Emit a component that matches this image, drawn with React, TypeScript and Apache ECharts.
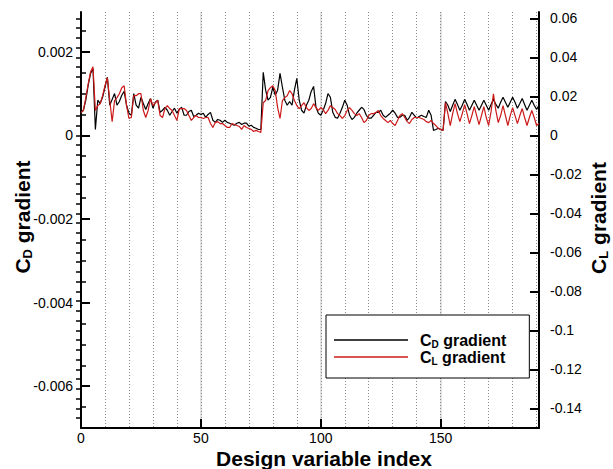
import React, { useEffect, useRef } from 'react';
import * as echarts from 'echarts';

const designIndex = Array.from({ length: 192 }, (_, i) => i);

const cdGradient = [
  0.00055, 0.0006, 0.00084, 0.0012, 0.00148, 0.0016, 0.00014, 0.00084, 0.00076, 0.00091,
  0.00115, 0.00139, 0.00072, 0.00086, 0.001, 0.00072, 0.00081, 0.00096, 0.00105, 0.00072,
  0.00053, 0.00048, 0.001, 0.00072, 0.00065, 0.00091, 0.00076, 0.00062, 0.00076, 0.00088,
  0.00065, 0.00079, 0.00084, 0.00055, 0.0006, 0.00067, 0.0006, 0.00048, 0.00057, 0.00065,
  0.00053, 0.00062, 0.00067, 0.00048, 0.00048, 0.00057, 0.0006, 0.00045, 0.00048, 0.00053,
  0.0005, 0.00053, 0.00043, 0.0005, 0.00055, 0.00036, 0.00031, 0.00038, 0.00036, 0.00031,
  0.00036, 0.00031, 0.00029, 0.00026, 0.00024, 0.00029, 0.00031, 0.00026, 0.00029, 0.00029,
  0.00022, 0.00024, 0.00019, 0.00017, 0.00014, 0.00014, 0.00151, 0.00108, 0.00084, 0.00091,
  0.00115, 0.00096, 0.00108, 0.00148, 0.00115, 0.00084, 0.00072, 0.00081, 0.00072, 0.00108,
  0.00136, 0.00084, 0.0006, 0.00053, 0.00072, 0.00084, 0.00105, 0.00117, 0.00067, 0.00053,
  0.00048, 0.0006, 0.00076, 0.001, 0.00091, 0.00055, 0.00043, 0.00041, 0.00053, 0.00067,
  0.00084, 0.00072, 0.00048, 0.00038, 0.00043, 0.00053, 0.0006, 0.00067, 0.00062, 0.00048,
  0.00041, 0.00041, 0.00048, 0.00055, 0.00055, 0.0006, 0.00048, 0.00043, 0.00048, 0.00053,
  0.0006, 0.00053, 0.00043, 0.00043, 0.00048, 0.00048, 0.00036, 0.00043, 0.00055, 0.00048,
  0.00041, 0.00045, 0.00048, 0.00045, 0.00043, 0.0006, 0.00048, 0.00012, 0.00014, 0.00017,
  0.00014, 0.00012, 0.00081, 0.00072, 0.00057, 0.00072, 0.00086, 0.00074, 0.0006, 0.00072,
  0.00086, 0.00074, 0.0006, 0.00072, 0.00084, 0.00072, 0.0006, 0.00072, 0.00084, 0.00072,
  0.0006, 0.00074, 0.00086, 0.00074, 0.00065, 0.00079, 0.00091, 0.00079, 0.00067, 0.00079,
  0.00091, 0.00079, 0.00065, 0.00076, 0.00088, 0.00074, 0.0006, 0.00072, 0.00084, 0.00072,
  0.00062, 0.00072,
];

const clGradient = [
  0.0117, 0.0128, 0.0194, 0.0265, 0.0326, 0.0352, 0.0128, 0.0153, 0.0163, 0.0204,
  0.0255, 0.0296, 0.0179, 0.0071, 0.0179, 0.0194, 0.0214, 0.0245, 0.0255, 0.0153,
  0.0087, 0.0092, 0.0204, 0.0204, 0.0214, 0.0214, 0.0128, 0.0092, 0.0128, 0.0189,
  0.0153, 0.0168, 0.0179, 0.0102, 0.0092, 0.0138, 0.0153, 0.0138, 0.0128, 0.0102,
  0.0077, 0.0138, 0.0138, 0.0138, 0.0128, 0.0102, 0.0077, 0.0092, 0.0102, 0.0092,
  0.0092, 0.0087, 0.0092, 0.0092, 0.0061, 0.0041, 0.0066, 0.0071, 0.0061, 0.0061,
  0.0051, 0.0041, 0.0041, 0.0061, 0.0056, 0.0051, 0.0046, 0.0031, 0.0051, 0.0041,
  0.0036, 0.0031, 0.002, 0.0026, 0.002, 0.0015, 0.0168, 0.0179, 0.023, 0.0245,
  0.0255, 0.023, 0.0143, 0.0087, 0.0179, 0.0194, 0.0204, 0.023, 0.0214, 0.0179,
  0.0153, 0.0138, 0.0153, 0.0168, 0.0143, 0.0128, 0.0138, 0.0163, 0.0143, 0.0128,
  0.0143, 0.0133, 0.0112, 0.0128, 0.0153, 0.0143, 0.0133, 0.0112, 0.0102, 0.0087,
  0.0102, 0.0128, 0.0143, 0.0128, 0.0112, 0.0102, 0.0112, 0.0092, 0.0066, 0.0077,
  0.0102, 0.0112, 0.0112, 0.0117, 0.0128, 0.0102, 0.0087, 0.0077, 0.0066, 0.0077,
  0.0061, 0.0051, 0.0077, 0.0102, 0.0112, 0.0092, 0.0071, 0.0061, 0.0082, 0.0092,
  0.0092, 0.0092, 0.0087, 0.0082, 0.0071, 0.0066, 0.0077, 0.0061, 0.0051, 0.0036,
  0.0031, 0.0026, 0.0168, 0.0112, 0.0051, 0.0112, 0.0163, 0.0112, 0.0071, 0.0112,
  0.0158, 0.0112, 0.0061, 0.0102, 0.0148, 0.0102, 0.0056, 0.0102, 0.0148, 0.0092,
  0.0051, 0.0122, 0.0214, 0.0128, 0.0066, 0.0102, 0.0153, 0.0102, 0.0051, 0.0102,
  0.0143, 0.0102, 0.0061, 0.0102, 0.0138, 0.0092, 0.0051, 0.0092, 0.0128, 0.0092,
  0.0051, 0.0061,
];

const xTicks = [0, 50, 100, 150];
const cdTicks = [-0.006, -0.004, -0.002, 0, 0.002];
const cdMinorTicks = [
  -0.0065, -0.006, -0.0055, -0.005, -0.0045, -0.004, -0.0035, -0.003, -0.0025, -0.002,
  -0.0015, -0.001, -0.0005, 0, 0.0005, 0.001, 0.0015, 0.002, 0.0025,
];
const clTicks = [-0.14, -0.12, -0.1, -0.08, -0.06, -0.04, -0.02, 0, 0.02, 0.04, 0.06];
const clMinorTicks = [
  -0.145, -0.14, -0.135, -0.13, -0.125, -0.12, -0.115, -0.11, -0.105, -0.1,
  -0.095, -0.09, -0.085, -0.08, -0.075, -0.07, -0.065, -0.06, -0.055, -0.05,
  -0.045, -0.04, -0.035, -0.03, -0.025, -0.02, -0.015, -0.01, -0.005, 0,
  0.005, 0.01, 0.015, 0.02, 0.025, 0.03, 0.035, 0.04, 0.045, 0.05, 0.055, 0.06,
];

const FONT = '"Liberation Sans", Arial, Helvetica, sans-serif';
const RED = '#cc1a1a';

const fmt = (v: number) => String(Number(Number(v).toPrecision(6)));

const titleRich = {
  m: { fontFamily: FONT, fontWeight: 'bold', fontSize: 21, fill: '#000', color: '#000', lineHeight: 24 },
  s: { fontFamily: FONT, fontWeight: 'bold', fontSize: 13, fill: '#000', color: '#000', lineHeight: 24, verticalAlign: 'bottom' },
};

export default function App() {
  const ref = useRef<HTMLDivElement>(null);
  useEffect(() => {
    if (!ref.current) return;
    const chart = echarts.init(ref.current, null, { renderer: 'svg' });
    const cdData = designIndex.map((x, i) => [x, cdGradient[i]]);
    const clData = designIndex.map((x, i) => [x, clGradient[i]]);
    const axisLineStyle = { color: '#000', width: 2 };
    chart.setOption({
      animation: false,
      backgroundColor: '#fff',
      grid: { left: 81, right: 74, top: 12, bottom: 41, containLabel: false },
      xAxis: [
        {
          type: 'value', min: 0, max: 191, interval: 50, position: 'bottom',
          axisLine: { show: true, onZero: false, lineStyle: axisLineStyle },
          axisTick: { show: true, inside: true, length: 9, customValues: xTicks, lineStyle: { color: '#000', width: 2 } },
          axisLabel: { customValues: xTicks, color: '#000', fontSize: 14, fontFamily: FONT, margin: 3, formatter: fmt },
          splitLine: { show: true, lineStyle: { color: '#d8d8d8', width: 1.5 } },
        },
        {
          type: 'value', min: 0, max: 191, interval: 10, position: 'bottom',
          axisLine: { show: false }, axisTick: { show: false }, axisLabel: { show: false },
          splitLine: { show: true, lineStyle: { color: '#8a8a8a', width: 1, type: [1, 2] } },
        },
      ],
      yAxis: [
        {
          type: 'value', position: 'left', min: -0.007, max: 0.00295,
          axisLine: { show: true, onZero: false, lineStyle: axisLineStyle },
          axisTick: { show: true, inside: true, length: 9, customValues: cdTicks, lineStyle: { color: '#000', width: 2 } },
          axisLabel: { customValues: cdTicks, color: '#000', fontSize: 14, fontFamily: FONT, margin: 8, formatter: fmt },
          splitLine: { show: false },
        },
        {
          type: 'value', position: 'left', min: -0.007, max: 0.00295,
          axisLine: { show: false },
          axisTick: { show: true, inside: true, length: 5, customValues: cdMinorTicks, lineStyle: { color: '#000', width: 1.5 } },
          axisLabel: { show: false },
          splitLine: { show: false },
        },
        {
          type: 'value', position: 'right', min: -0.15, max: 0.0633,
          axisLine: { show: true, onZero: false, lineStyle: axisLineStyle },
          axisTick: { show: true, inside: true, length: 9, customValues: clTicks, lineStyle: { color: '#000', width: 2 } },
          axisLabel: { customValues: clTicks, color: '#000', fontSize: 14, fontFamily: FONT, margin: 11, formatter: fmt },
          splitLine: { show: false },
        },
        {
          type: 'value', position: 'right', min: -0.15, max: 0.0633,
          axisLine: { show: false },
          axisTick: { show: true, inside: true, length: 5, customValues: clMinorTicks, lineStyle: { color: '#000', width: 1.5 } },
          axisLabel: { show: false },
          splitLine: { show: false },
        },
      ],
      legend: {
        show: true, orient: 'vertical', left: 326, top: 315,
        icon: 'rect',
        itemWidth: 74, itemHeight: 1.5, itemGap: 0,
        padding: [17, 23, 12, 8],
        backgroundColor: '#fff', borderColor: '#000', borderWidth: 1, borderRadius: 0,
        data: ['CD', 'CL'],
        formatter: (name: string) => (name === 'CD' ? '{f|C}{s|D}{m| gradient}' : '{f|C}{s|L}{m| gradient}'),
        textStyle: {
          fontFamily: FONT, fontWeight: 'bold', fontSize: 16, color: '#000',
          rich: {
            f: { fontFamily: FONT, fontWeight: 'bold', fontSize: 16, color: '#000', padding: [0, 0, 0, 7], lineHeight: 18 },
            m: { fontFamily: FONT, fontWeight: 'bold', fontSize: 16, color: '#000', lineHeight: 18 },
            s: { fontFamily: FONT, fontWeight: 'bold', fontSize: 10, color: '#000', lineHeight: 18, verticalAlign: 'bottom' },
          },
        },
      },
      graphic: [
        {
          type: 'text', x: 22, y: 217, rotation: Math.PI / 2,
          style: { text: '{m|C}{s|D}{m| gradient}', rich: titleRich, align: 'center', verticalAlign: 'middle', fill: '#000' },
        },
        {
          type: 'text', x: 598, y: 218, rotation: Math.PI / 2,
          style: { text: '{m|C}{s|L}{m| gradient}', rich: titleRich, align: 'center', verticalAlign: 'middle', fill: '#000' },
        },
        {
          type: 'text', x: 324, y: 458,
          style: { text: 'Design variable index', font: `bold 21px ${FONT}`, align: 'center', verticalAlign: 'middle', fill: '#000' },
        },
      ],
      series: [
        {
          name: 'CD', type: 'line', xAxisIndex: 0, yAxisIndex: 0, data: cdData,
          symbol: 'none', lineStyle: { color: '#000', width: 1.2 }, itemStyle: { color: '#000' }, z: 3,
        },
        {
          name: 'CL', type: 'line', xAxisIndex: 0, yAxisIndex: 2, data: clData,
          symbol: 'none', lineStyle: { color: RED, width: 1.2 }, itemStyle: { color: RED }, z: 4,
        },
      ],
    });
    return () => chart.dispose();
  }, []);
  return <div ref={ref} style={{ position: 'fixed', left: 0, top: 0, width: 613, height: 469, background: '#fff' }} />;
}
